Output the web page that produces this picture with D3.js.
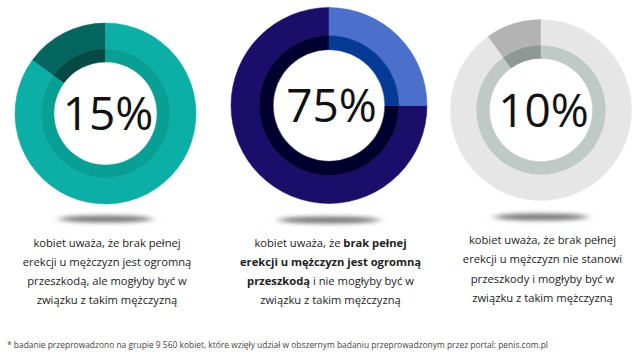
<!DOCTYPE html>
<html>
<head>
<meta charset="utf-8">
<script src="https://cdn.jsdelivr.net/npm/d3@7"></script>
<style>
  body { margin: 0; background: #fff; }
  svg { display: block; font-family: "Open Sans", "Noto Sans", sans-serif; }
</style>
</head>
<body>
<div class="chart"></div>
<script>
var values = [15, 75, 10];
var labels = ["15%", "75%", "10%"];
var valueOuter = ["#05665f", "#1b0e6b", "#b3b3b3"];
var valueInner = ["#034a44", "#00002f", "#8e9996"];
var restOuter = ["#0bafa5", "#4a70cc", "#e6e6e6"];
var restInner = ["#08a094", "#053a97", "#bfc9c6"];

// each line: list of [text, bold]
var captions = [
    [
        [["kobiet uważa, że brak pełnej", 0]],
        [["erekcji u mężczyzn jest ogromną", 0]],
        [["przeszkodą, ale mogłyby być w", 0]],
        [["związku z takim mężczyzną", 0]]
    ],
    [
        [["kobiet uważa, że ", 0], ["brak pełnej", 1]],
        [["erekcji u mężczyzn jest ogromną", 1]],
        [["przeszkodą", 1], [" i nie mogłyby być w", 0]],
        [["związku z takim mężczyzną", 0]]
    ],
    [
        [["kobiet uważa, że brak pełnej", 0]],
        [["erekcji u mężczyzn nie stanowi", 0]],
        [["przeszkody i mogłyby być w", 0]],
        [["związku z takim mężczyzną", 0]]
    ]
];
var footnote = "* badanie przeprowadzono na grupie 9 560 kobiet, które wzięły udział w obszernym badaniu przeprowadzonym przez portal: penis.com.pl";

var w = 644, h = 361;
var cx = [105.5, 329, 541];
var cy = [113.5, 105.5, 110];
var radius = [90.5, 98, 90.5];
var shadowY = [219, 220, 217];
var captionY = [246.5, 246.5, 244];

var svg = d3.select(".chart").append("svg")
    .attr("width", w)
    .attr("height", h);

var defs = svg.append("defs");
defs.append("filter")
    .attr("id", "blur")
    .attr("x", "-50%").attr("y", "-200%")
    .attr("width", "200%").attr("height", "500%")
    .append("feGaussianBlur")
    .attr("stdDeviation", "4 2.2");

var pie = d3.pie().sort(null);

for (var i = 0; i < values.length; i++) {
    var v = values[i];
    var a0 = -2 * Math.PI * v / 100;
    pie.startAngle(a0).endAngle(a0 + 2 * Math.PI);
    var slices = pie([v, 100 - v]);
    var R = radius[i];

    svg.append("ellipse")
        .attr("cx", cx[i])
        .attr("cy", shadowY[i])
        .attr("rx", R * 0.52)
        .attr("ry", 3.5)
        .attr("fill", "#7a7a7a")
        .attr("filter", "url(#blur)");

    var g = svg.append("g").attr("transform", "translate(" + cx[i] + "," + cy[i] + ")");

    var outerArc = d3.arc().innerRadius(R * 0.712).outerRadius(R);
    var innerArc = d3.arc().innerRadius(R * 0.57).outerRadius(R * 0.712);
    var oc = [valueOuter[i], restOuter[i]];
    var ic = [valueInner[i], restInner[i]];

    g.selectAll("path.outer")
        .data(slices)
        .enter()
        .append("path")
        .attr("class", "outer")
        .attr("d", outerArc)
        .attr("fill", function(d, j) { return oc[j]; })
        .attr("stroke", function(d, j) { return oc[j]; })
        .attr("stroke-width", 0.5);

    g.selectAll("path.inner")
        .data(slices)
        .enter()
        .append("path")
        .attr("class", "inner")
        .attr("d", innerArc)
        .attr("fill", function(d, j) { return ic[j]; })
        .attr("stroke", function(d, j) { return ic[j]; })
        .attr("stroke-width", 0.5);

    g.append("text")
        .attr("x", 2.5)
        .attr("y", 16.5)
        .attr("text-anchor", "middle")
        .attr("font-size", 46)
        .attr("fill", "#111")
        .text(labels[i]);

    var cap = svg.append("text")
        .attr("text-anchor", "middle")
        .attr("font-size", 11.2)
        .attr("fill", "#222");
    for (var l = 0; l < captions[i].length; l++) {
        var line = cap.append("tspan")
            .attr("x", cx[i] + 1.5)
            .attr("y", captionY[i] + l * 19.3);
        captions[i][l].forEach(function(seg) {
            line.append("tspan")
                .attr("font-weight", seg[1] ? 700 : 400)
                .text(seg[0]);
        });
    }
}

svg.append("text")
    .attr("x", 7)
    .attr("y", 348)
    .attr("font-size", 9)
    .attr("textLength", 541)
    .attr("lengthAdjust", "spacingAndGlyphs")
    .attr("fill", "#444")
    .text(footnote);
</script>
</body>
</html>
